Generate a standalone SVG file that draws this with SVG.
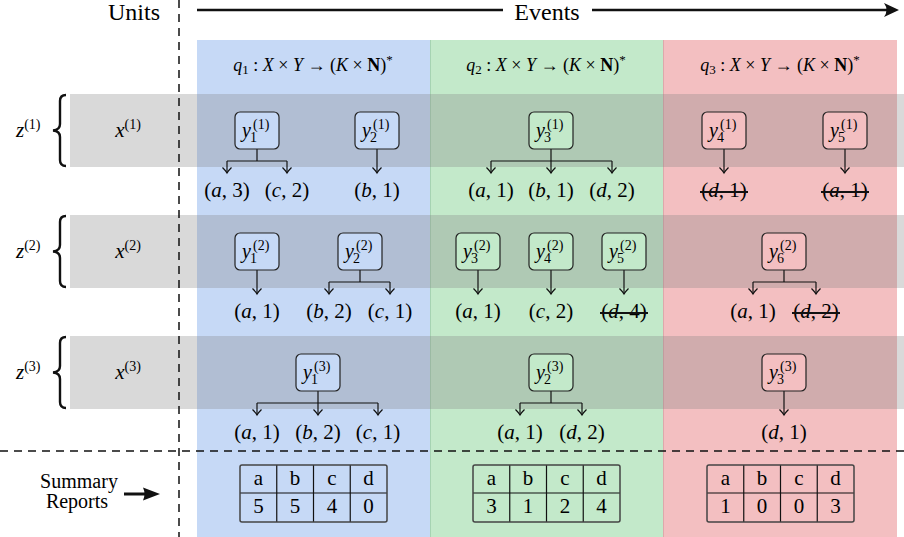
<svg xmlns="http://www.w3.org/2000/svg" width="904" height="537" viewBox="0 0 904 537">
<defs>
<marker id="tip" markerUnits="userSpaceOnUse" viewBox="-7 -7 9 14" refX="0" refY="0" markerWidth="9" markerHeight="14" orient="auto">
<path d="M -5.5 -4.5 Q -2 -1 0 0 Q -2 1 -5.5 4.5" fill="none" stroke="#111" stroke-width="1.2"/>
</marker>
<rect id="nb" width="44" height="37" rx="5" stroke="#222" stroke-width="1.2"/>
</defs>
<rect width="904" height="537" fill="#fff"/>
<g id="columns">
<rect x="197" y="40" width="233" height="497" fill="#c6d9f6"/>
<rect x="430" y="40" width="233" height="497" fill="#c3e9ca"/>
<rect x="663" y="40" width="234" height="497" fill="#f3bfc1"/>
<line x1="430.5" y1="40" x2="430.5" y2="537" stroke="#a6d3b2" stroke-width="1"/>
<line x1="663.5" y1="40" x2="663.5" y2="537" stroke="#dea8ab" stroke-width="1"/>
</g>
<g id="bands" fill="#808080" fill-opacity="0.3">
<rect x="70" y="94" width="834" height="73"/>
<rect x="70" y="215" width="834" height="73"/>
<rect x="70" y="336" width="834" height="73"/>
</g>
<g id="header">
<text x="160" y="20" font-size="24" text-anchor="end" font-family="Liberation Serif">Units</text>
<text x="547" y="20" font-size="24" text-anchor="middle" font-family="Liberation Serif">Events</text>
<line x1="197" y1="10" x2="503" y2="10" stroke="#111" stroke-width="2.5"/>
<line x1="592" y1="10" x2="890" y2="10" stroke="#111" stroke-width="2.5"/>
<path d="M 899 10 L 884 3 Q 889 10 884 17 Z" fill="#111"/>
<g stroke="#111" stroke-width="1.5" stroke-dasharray="8 6" fill="none">
<line x1="179" y1="0" x2="179" y2="537"/>
<line x1="0" y1="451" x2="904" y2="451"/>
</g>
</g>
<g id="queries">
<text x="313" y="71" text-anchor="middle" font-size="18" font-family="Liberation Serif"><tspan font-style="italic">q</tspan><tspan font-size="13" dy="3">1</tspan><tspan dy="-3"> : </tspan><tspan font-style="italic">X</tspan> &#215; <tspan font-style="italic">Y</tspan> &#8594; (<tspan font-style="italic">K</tspan> &#215; <tspan font-weight="bold">N</tspan>)<tspan font-size="13" dy="-7">*</tspan></text>
<text x="546" y="71" text-anchor="middle" font-size="18" font-family="Liberation Serif"><tspan font-style="italic">q</tspan><tspan font-size="13" dy="3">2</tspan><tspan dy="-3"> : </tspan><tspan font-style="italic">X</tspan> &#215; <tspan font-style="italic">Y</tspan> &#8594; (<tspan font-style="italic">K</tspan> &#215; <tspan font-weight="bold">N</tspan>)<tspan font-size="13" dy="-7">*</tspan></text>
<text x="780" y="71" text-anchor="middle" font-size="18" font-family="Liberation Serif"><tspan font-style="italic">q</tspan><tspan font-size="13" dy="3">3</tspan><tspan dy="-3"> : </tspan><tspan font-style="italic">X</tspan> &#215; <tspan font-style="italic">Y</tspan> &#8594; (<tspan font-style="italic">K</tspan> &#215; <tspan font-weight="bold">N</tspan>)<tspan font-size="13" dy="-7">*</tspan></text>
</g>
<g id="units">
<g id="unit1">
<text x="16" y="137" font-size="21" font-family="Liberation Serif"><tspan font-style="italic">z</tspan><tspan font-size="14" dy="-8">(1)</tspan></text>
<path d="M 66 95 Q 60 95 60 101 L 60 124 Q 60 130 53 130.5 Q 60 131 60 137 L 60 160 Q 60 166 66 166" fill="none" stroke="#111" stroke-width="2.4"/>
<text x="128" y="137" font-size="21" text-anchor="middle" font-family="Liberation Serif"><tspan font-style="italic">x</tspan><tspan font-size="14" dy="-8">(1)</tspan></text>
</g>
<g id="unit2">
<text x="16" y="258" font-size="21" font-family="Liberation Serif"><tspan font-style="italic">z</tspan><tspan font-size="14" dy="-8">(2)</tspan></text>
<path d="M 66 216 Q 60 216 60 222 L 60 245 Q 60 251 53 251.5 Q 60 252 60 258 L 60 281 Q 60 287 66 287" fill="none" stroke="#111" stroke-width="2.4"/>
<text x="128" y="258" font-size="21" text-anchor="middle" font-family="Liberation Serif"><tspan font-style="italic">x</tspan><tspan font-size="14" dy="-8">(2)</tspan></text>
</g>
<g id="unit3">
<text x="16" y="379" font-size="21" font-family="Liberation Serif"><tspan font-style="italic">z</tspan><tspan font-size="14" dy="-8">(3)</tspan></text>
<path d="M 66 337 Q 60 337 60 343 L 60 366 Q 60 372 53 372.5 Q 60 373 60 379 L 60 402 Q 60 408 66 408" fill="none" stroke="#111" stroke-width="2.4"/>
<text x="128" y="379" font-size="21" text-anchor="middle" font-family="Liberation Serif"><tspan font-style="italic">x</tspan><tspan font-size="14" dy="-8">(3)</tspan></text>
</g>
</g>
<g id="connectors" stroke="#111" stroke-width="1.2" fill="none">
<path d="M 257 149 V 161 M 227 161 H 287"/>
<path marker-end="url(#tip)" d="M 227 161 V 173"/>
<path marker-end="url(#tip)" d="M 287 161 V 173"/>
<path marker-end="url(#tip)" d="M 377 149 V 173"/>
<path d="M 551 149 V 161 M 491 161 H 612"/>
<path marker-end="url(#tip)" d="M 491 161 V 173"/>
<path marker-end="url(#tip)" d="M 551 161 V 173"/>
<path marker-end="url(#tip)" d="M 612 161 V 173"/>
<path marker-end="url(#tip)" d="M 724 149 V 173"/>
<path marker-end="url(#tip)" d="M 845 149 V 173"/>
<path marker-end="url(#tip)" d="M 257 270 V 294"/>
<path d="M 360 270 V 282 M 329 282 H 390"/>
<path marker-end="url(#tip)" d="M 329 282 V 294"/>
<path marker-end="url(#tip)" d="M 390 282 V 294"/>
<path marker-end="url(#tip)" d="M 478 270 V 294"/>
<path marker-end="url(#tip)" d="M 551 270 V 294"/>
<path marker-end="url(#tip)" d="M 624 270 V 294"/>
<path d="M 784 270 V 282 M 753 282 H 816"/>
<path marker-end="url(#tip)" d="M 753 282 V 294"/>
<path marker-end="url(#tip)" d="M 816 282 V 294"/>
<path d="M 318 391 V 403 M 257 403 H 378"/>
<path marker-end="url(#tip)" d="M 257 403 V 415"/>
<path marker-end="url(#tip)" d="M 318 403 V 415"/>
<path marker-end="url(#tip)" d="M 378 403 V 415"/>
<path d="M 551 391 V 403 M 520 403 H 582"/>
<path marker-end="url(#tip)" d="M 520 403 V 415"/>
<path marker-end="url(#tip)" d="M 582 403 V 415"/>
<path marker-end="url(#tip)" d="M 784 391 V 415"/>
</g>
<g id="nodes">
<g id="y1_1"><use href="#nb" x="235" y="112" fill="#c6d9f6"/>
<text x="242" y="137" font-size="20" font-style="italic" font-family="Liberation Serif">y</text><text x="250" y="142" font-size="14" font-family="Liberation Serif">1</text><text x="253" y="129" font-size="14" font-family="Liberation Serif">(1)</text></g>
<g id="y2_1"><use href="#nb" x="355" y="112" fill="#c6d9f6"/>
<text x="362" y="137" font-size="20" font-style="italic" font-family="Liberation Serif">y</text><text x="370" y="142" font-size="14" font-family="Liberation Serif">2</text><text x="373" y="129" font-size="14" font-family="Liberation Serif">(1)</text></g>
<g id="y3_1"><use href="#nb" x="529" y="112" fill="#c3e9ca"/>
<text x="536" y="137" font-size="20" font-style="italic" font-family="Liberation Serif">y</text><text x="544" y="142" font-size="14" font-family="Liberation Serif">3</text><text x="547" y="129" font-size="14" font-family="Liberation Serif">(1)</text></g>
<g id="y4_1"><use href="#nb" x="702" y="112" fill="#f3bfc1"/>
<text x="709" y="137" font-size="20" font-style="italic" font-family="Liberation Serif">y</text><text x="717" y="142" font-size="14" font-family="Liberation Serif">4</text><text x="720" y="129" font-size="14" font-family="Liberation Serif">(1)</text></g>
<g id="y5_1"><use href="#nb" x="823" y="112" fill="#f3bfc1"/>
<text x="830" y="137" font-size="20" font-style="italic" font-family="Liberation Serif">y</text><text x="838" y="142" font-size="14" font-family="Liberation Serif">5</text><text x="841" y="129" font-size="14" font-family="Liberation Serif">(1)</text></g>
<g id="y1_2"><use href="#nb" x="235" y="233" fill="#c6d9f6"/>
<text x="242" y="258" font-size="20" font-style="italic" font-family="Liberation Serif">y</text><text x="250" y="263" font-size="14" font-family="Liberation Serif">1</text><text x="253" y="250" font-size="14" font-family="Liberation Serif">(2)</text></g>
<g id="y2_2"><use href="#nb" x="338" y="233" fill="#c6d9f6"/>
<text x="345" y="258" font-size="20" font-style="italic" font-family="Liberation Serif">y</text><text x="353" y="263" font-size="14" font-family="Liberation Serif">2</text><text x="356" y="250" font-size="14" font-family="Liberation Serif">(2)</text></g>
<g id="y3_2"><use href="#nb" x="456" y="233" fill="#c3e9ca"/>
<text x="463" y="258" font-size="20" font-style="italic" font-family="Liberation Serif">y</text><text x="471" y="263" font-size="14" font-family="Liberation Serif">3</text><text x="474" y="250" font-size="14" font-family="Liberation Serif">(2)</text></g>
<g id="y4_2"><use href="#nb" x="529" y="233" fill="#c3e9ca"/>
<text x="536" y="258" font-size="20" font-style="italic" font-family="Liberation Serif">y</text><text x="544" y="263" font-size="14" font-family="Liberation Serif">4</text><text x="547" y="250" font-size="14" font-family="Liberation Serif">(2)</text></g>
<g id="y5_2"><use href="#nb" x="602" y="233" fill="#c3e9ca"/>
<text x="609" y="258" font-size="20" font-style="italic" font-family="Liberation Serif">y</text><text x="617" y="263" font-size="14" font-family="Liberation Serif">5</text><text x="620" y="250" font-size="14" font-family="Liberation Serif">(2)</text></g>
<g id="y6_2"><use href="#nb" x="762" y="233" fill="#f3bfc1"/>
<text x="769" y="258" font-size="20" font-style="italic" font-family="Liberation Serif">y</text><text x="777" y="263" font-size="14" font-family="Liberation Serif">6</text><text x="780" y="250" font-size="14" font-family="Liberation Serif">(2)</text></g>
<g id="y1_3"><use href="#nb" x="296" y="354" fill="#c6d9f6"/>
<text x="303" y="379" font-size="20" font-style="italic" font-family="Liberation Serif">y</text><text x="311" y="384" font-size="14" font-family="Liberation Serif">1</text><text x="314" y="371" font-size="14" font-family="Liberation Serif">(3)</text></g>
<g id="y2_3"><use href="#nb" x="529" y="354" fill="#c3e9ca"/>
<text x="536" y="379" font-size="20" font-style="italic" font-family="Liberation Serif">y</text><text x="544" y="384" font-size="14" font-family="Liberation Serif">2</text><text x="547" y="371" font-size="14" font-family="Liberation Serif">(3)</text></g>
<g id="y3_3"><use href="#nb" x="762" y="354" fill="#f3bfc1"/>
<text x="769" y="379" font-size="20" font-style="italic" font-family="Liberation Serif">y</text><text x="777" y="384" font-size="14" font-family="Liberation Serif">3</text><text x="780" y="371" font-size="14" font-family="Liberation Serif">(3)</text></g>
</g>
<g id="outputs" text-anchor="middle" font-size="21">
<text x="227" y="197" font-family="Liberation Serif">(<tspan font-style="italic">a</tspan>, 3)</text>
<text x="287" y="197" font-family="Liberation Serif">(<tspan font-style="italic">c</tspan>, 2)</text>
<text x="377" y="197" font-family="Liberation Serif">(<tspan font-style="italic">b</tspan>, 1)</text>
<text x="491" y="197" font-family="Liberation Serif">(<tspan font-style="italic">a</tspan>, 1)</text>
<text x="551" y="197" font-family="Liberation Serif">(<tspan font-style="italic">b</tspan>, 1)</text>
<text x="612" y="197" font-family="Liberation Serif">(<tspan font-style="italic">d</tspan>, 2)</text>
<text x="724" y="197" font-family="Liberation Serif">(<tspan font-style="italic">d</tspan>, 1)</text>
<text x="845" y="197" font-family="Liberation Serif">(<tspan font-style="italic">a</tspan>, 1)</text>
<text x="257" y="318" font-family="Liberation Serif">(<tspan font-style="italic">a</tspan>, 1)</text>
<text x="329" y="318" font-family="Liberation Serif">(<tspan font-style="italic">b</tspan>, 2)</text>
<text x="390" y="318" font-family="Liberation Serif">(<tspan font-style="italic">c</tspan>, 1)</text>
<text x="478" y="318" font-family="Liberation Serif">(<tspan font-style="italic">a</tspan>, 1)</text>
<text x="551" y="318" font-family="Liberation Serif">(<tspan font-style="italic">c</tspan>, 2)</text>
<text x="624" y="318" font-family="Liberation Serif">(<tspan font-style="italic">d</tspan>, 4)</text>
<text x="753" y="318" font-family="Liberation Serif">(<tspan font-style="italic">a</tspan>, 1)</text>
<text x="816" y="318" font-family="Liberation Serif">(<tspan font-style="italic">d</tspan>, 2)</text>
<text x="257" y="439" font-family="Liberation Serif">(<tspan font-style="italic">a</tspan>, 1)</text>
<text x="318" y="439" font-family="Liberation Serif">(<tspan font-style="italic">b</tspan>, 2)</text>
<text x="378" y="439" font-family="Liberation Serif">(<tspan font-style="italic">c</tspan>, 1)</text>
<text x="520" y="439" font-family="Liberation Serif">(<tspan font-style="italic">a</tspan>, 1)</text>
<text x="582" y="439" font-family="Liberation Serif">(<tspan font-style="italic">d</tspan>, 2)</text>
<text x="784" y="439" font-family="Liberation Serif">(<tspan font-style="italic">d</tspan>, 1)</text>
<g stroke="#111" stroke-width="2">
<line x1="700" y1="192" x2="748" y2="192"/>
<line x1="821" y1="192" x2="869" y2="192"/>
<line x1="600" y1="313" x2="648" y2="313"/>
<line x1="792" y1="313" x2="840" y2="313"/>
</g>
</g>
<g id="summary">
<text x="79" y="488" font-size="20" text-anchor="middle" font-family="Liberation Serif">Summary</text>
<text x="77" y="508" font-size="20" text-anchor="middle" font-family="Liberation Serif">Reports</text>
<line x1="124" y1="494" x2="148" y2="494" stroke="#111" stroke-width="3"/>
<path d="M 160 494 L 143 487.5 Q 146 494 143 500.5 Z" fill="#111"/>
</g>
<g id="table1" text-anchor="middle" font-size="21">
<g stroke="#111" stroke-width="1.2">
<line x1="240" y1="493" x2="387" y2="493"/>
<line x1="276.75" y1="465" x2="276.75" y2="522"/>
<line x1="313.5" y1="465" x2="313.5" y2="522"/>
<line x1="350.25" y1="465" x2="350.25" y2="522"/>
</g>
<rect x="240" y="465" width="147" height="57" rx="2" fill="none" stroke="#444" stroke-width="1.5"/>
<text x="258.4" y="485" font-family="Liberation Serif">a</text><text x="295.1" y="485" font-family="Liberation Serif">b</text><text x="331.9" y="485" font-family="Liberation Serif">c</text><text x="368.6" y="485" font-family="Liberation Serif">d</text>
<text x="258.4" y="513" font-family="Liberation Serif">5</text><text x="295.1" y="513" font-family="Liberation Serif">5</text><text x="331.9" y="513" font-family="Liberation Serif">4</text><text x="368.6" y="513" font-family="Liberation Serif">0</text>
</g>
<g id="table2" text-anchor="middle" font-size="21">
<g stroke="#111" stroke-width="1.2">
<line x1="473" y1="493" x2="620" y2="493"/>
<line x1="509.75" y1="465" x2="509.75" y2="522"/>
<line x1="546.5" y1="465" x2="546.5" y2="522"/>
<line x1="583.25" y1="465" x2="583.25" y2="522"/>
</g>
<rect x="473" y="465" width="147" height="57" rx="2" fill="none" stroke="#444" stroke-width="1.5"/>
<text x="491.4" y="485" font-family="Liberation Serif">a</text><text x="528.1" y="485" font-family="Liberation Serif">b</text><text x="564.9" y="485" font-family="Liberation Serif">c</text><text x="601.6" y="485" font-family="Liberation Serif">d</text>
<text x="491.4" y="513" font-family="Liberation Serif">3</text><text x="528.1" y="513" font-family="Liberation Serif">1</text><text x="564.9" y="513" font-family="Liberation Serif">2</text><text x="601.6" y="513" font-family="Liberation Serif">4</text>
</g>
<g id="table3" text-anchor="middle" font-size="21">
<g stroke="#111" stroke-width="1.2">
<line x1="707" y1="493" x2="854" y2="493"/>
<line x1="743.75" y1="465" x2="743.75" y2="522"/>
<line x1="780.5" y1="465" x2="780.5" y2="522"/>
<line x1="817.25" y1="465" x2="817.25" y2="522"/>
</g>
<rect x="707" y="465" width="147" height="57" rx="2" fill="none" stroke="#444" stroke-width="1.5"/>
<text x="725.4" y="485" font-family="Liberation Serif">a</text><text x="762.1" y="485" font-family="Liberation Serif">b</text><text x="798.9" y="485" font-family="Liberation Serif">c</text><text x="835.6" y="485" font-family="Liberation Serif">d</text>
<text x="725.4" y="513" font-family="Liberation Serif">1</text><text x="762.1" y="513" font-family="Liberation Serif">0</text><text x="798.9" y="513" font-family="Liberation Serif">0</text><text x="835.6" y="513" font-family="Liberation Serif">3</text>
</g>
</svg>
